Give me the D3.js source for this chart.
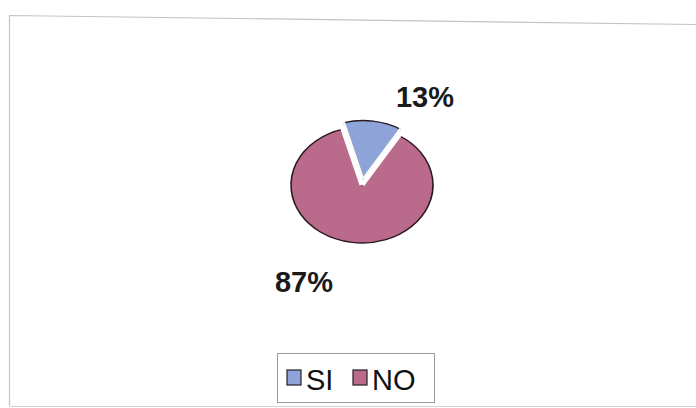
<!DOCTYPE html>
<html>
<head>
<meta charset="utf-8">
<script src="https://cdn.jsdelivr.net/npm/d3@7"></script>
<style>
  body { margin: 0; background: #fff; }
  text { font-family: "Liberation Sans", Arial, sans-serif; }
</style>
</head>
<body>
<div class="chart"></div>
<script>
const categories = ["SI", "NO"];
const values = [13, 87];
const colors = ["#8ea4d8", "#ba6b8b"];

const width = 696, height = 408;
const cx = 362, cy = 185, rx = 71, ry = 58;

const svg = d3.select(".chart").append("svg")
  .attr("width", width)
  .attr("height", height);

// outer frame (scan is slightly tilted)
svg.append("path")
  .attr("d", "M9.5,406 L9.5,15.5 L696,24.5")
  .attr("fill", "none")
  .attr("stroke", "#c4c4c4")
  .attr("stroke-width", 1.2);
svg.append("line")
  .attr("x1", 9.5).attr("y1", 406.5)
  .attr("x2", 696).attr("y2", 406.5)
  .attr("stroke", "#d0d0d0");

const data = categories.map((c, i) => ({cat: c, value: values[i], color: colors[i]}));

const pie = d3.pie()
  .value(d => d.value)
  .sort(null)
  .startAngle(-0.27)
  .endAngle(-0.27 + 2 * Math.PI);

const arcs = pie(data);
const arc = d3.arc().innerRadius(0).outerRadius(rx);

const g = svg.append("g")
  .attr("transform", "translate(" + cx + "," + cy + ") scale(1," + (ry / rx) + ")");

const explode = 8;
g.selectAll(".slice")
  .data(arcs)
  .enter()
  .append("path")
  .attr("class", "slice")
  .attr("d", arc)
  .attr("fill", d => d.data.color)
  .attr("stroke", "#2a1a22")
  .attr("stroke-width", 1.6)
  .attr("transform", d => {
    if (d.data.cat != "SI") return null;
    const a = (d.startAngle + d.endAngle) / 2;
    return "translate(" + (Math.sin(a) * explode) + "," + (-Math.cos(a) * explode) + ")";
  });

// white gaps along the radial edges of the pulled-out slice
const si = arcs[0];
const off = [Math.sin((si.startAngle + si.endAngle) / 2) * explode, -Math.cos((si.startAngle + si.endAngle) / 2) * explode];
const edge = (a, r) => [Math.sin(a) * r, -Math.cos(a) * r];
[si.startAngle, si.endAngle].forEach(a => {
  const e = edge(a, rx + 4);
  g.append("path")
    .attr("d", "M0,0 L" + e[0] + "," + e[1])
    .attr("stroke", "#fff")
    .attr("stroke-width", 5)
    .attr("fill", "none");
  const e2 = edge(a, rx + 1);
  g.append("path")
    .attr("d", "M" + off[0] + "," + off[1] + " L" + (e2[0] + off[0]) + "," + (e2[1] + off[1]))
    .attr("stroke", "#fff")
    .attr("stroke-width", 2)
    .attr("fill", "none");
});

// percentage labels
const total = d3.sum(values);
const labelPos = {SI: [425, 107], NO: [304, 292]};
svg.selectAll(".lbl")
  .data(arcs)
  .enter()
  .append("text")
  .attr("class", "lbl")
  .attr("x", d => labelPos[d.data.cat][0])
  .attr("y", d => labelPos[d.data.cat][1])
  .attr("text-anchor", "middle")
  .attr("font-size", 29)
  .attr("font-weight", "bold")
  .attr("fill", "#1a1a1a")
  .text(d => Math.round(d.data.value / total * 100) + "%");

// legend
const legend = svg.append("g").attr("transform", "translate(277,353)");
legend.append("rect")
  .attr("x", 0.5).attr("y", 0.5)
  .attr("width", 157).attr("height", 49)
  .attr("fill", "#fff")
  .attr("stroke", "#9a9a9a");

const itemX = [10, 76];
const items = legend.selectAll(".item")
  .data(data)
  .enter()
  .append("g")
  .attr("class", "item")
  .attr("transform", (d, i) => "translate(" + itemX[i] + ",0)");

items.append("rect")
  .attr("x", 0).attr("y", 17)
  .attr("width", 14).attr("height", 15)
  .attr("fill", d => d.color)
  .attr("stroke", "#222")
  .attr("stroke-width", 1.2);

items.append("text")
  .attr("x", 19)
  .attr("y", 37)
  .attr("font-size", 29)
  .attr("fill", "#111")
  .text(d => d.cat);
</script>
</body>
</html>
